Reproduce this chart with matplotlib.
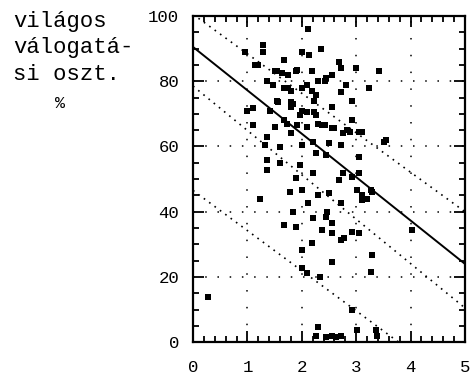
import numpy as np
import matplotlib.pyplot as plt
from matplotlib.ticker import MultipleLocator

# scatter points (x, y)
pts_x = [2.11, 0.95, 1.28, 1.28, 2.0, 2.14, 2.36, 1.68, 1.14, 2.69, 3.0, 3.42, 1.54, 1.9, 2.18,
         2.56, 2.73, 1.36, 1.74, 2.09, 2.45, 2.73, 3.24, 2.27, 2.82, 1.1, 1.56, 1.83, 1.41, 2.09,
         2.55, 2.93, 2.27, 1.96, 1.1, 1.5, 1.72, 2.09, 2.38, 2.56, 2.84, 3.06, 1.36, 1.81, 2.75,
         3.55, 1.32, 1.59, 2.01, 2.2, 2.5, 2.73, 2.27, 2.45, 3.06, 1.36, 1.59, 1.96, 2.2, 2.75,
         2.69, 3.06, 1.36, 1.9,
         1.19, 1.5, 1.63, 1.74, 1.92, 1.47, 1.68, 1.81, 2.01, 2.18, 2.29, 2.42, 1.54, 1.81, 2.23,
         0.99, 1.81, 2.0, 2.23, 1.68, 1.92, 2.29, 2.42,
         2.6, 2.88, 3.11, 2.93, 3.52, 2.93, 3.28, 3.2, 3.11, 2.45, 2.78,
         1.23, 1.78, 2.01, 2.29, 2.5, 2.73, 2.11, 3.11, 3.3, 3.02, 1.83, 2.2, 2.47, 2.56, 1.68,
         1.9, 2.38, 2.56, 2.73, 2.93, 3.06, 2.18, 2.01, 3.3, 2.56, 2.01, 2.09, 2.33, 3.28, 2.93,
         2.29, 2.27, 2.56, 2.73, 3.39, 4.03, 0.27, 2.45, 2.62, 3.37, 3.02]
pts_y = [96, 89, 89, 91, 89, 88, 90, 86.5, 85, 86, 84, 83, 83, 83, 83,
         82, 84, 80, 78, 78.8, 81, 76.7, 78, 75.8, 78.8, 71.8, 73.6, 73, 71, 70.5,
         72, 74, 69.6, 69.6, 66.6, 66, 67, 66, 66.6, 65.6, 65, 64.4, 62.9, 64, 64,
         62, 60.4, 59.8, 60.4, 61.3, 61, 60.4, 58, 57.4, 56.7, 55.8, 54.9, 54.3, 51.8, 51.8,
         49.7, 51.8, 52.8, 50.3,
         85, 83, 82.5, 82, 83.4, 78.8, 78, 77, 78, 77, 80, 80, 74, 73.6, 74,
         71, 72, 71, 70.5, 68, 66.6, 67, 66.6,
         65.6, 64.4, 64.4, 68, 61.3, 50.6, 46.6, 44, 43.5, 38.3, 32,
         44, 46, 46.6, 45, 45.7, 42.6, 42.6, 45, 46, 46.6, 40, 38, 40, 36.5, 35.9,
         35.3, 34.4, 33.4, 31.3, 33.7, 33.4, 30.4, 28.2, 26.7, 24.5, 22.7, 21.2, 20, 21.5, 9.8,
         4.6, 2, 2, 2, 2, 34.4, 13.8, 1.5, 1.5, 3.7, 3.7]

# regression line and dotted bands (values at x = 0 and x = 5)
line_x = [0, 5]
fit_y = [90.5, 24]
upper_y = [100.5, 40]
lower_y = [78.5, 10.5]
lower2_y = [46.5, -15]

plt.rcParams['font.family'] = ['Liberation Mono', 'DejaVu Sans Mono']

fig = plt.figure(figsize=(4.72, 3.81), dpi=100)
ax = fig.add_axes([0.409, 0.102, 0.576, 0.856])

# grid
for g in [20, 40, 60, 80]:
    ax.plot([0, 5], [g, g], color='black', lw=1.1, ls=(0, (1, 7)))
for g in [1, 2, 3, 4]:
    ax.plot([g, g], [0, 100], color='black', lw=1.1, ls=(0, (1, 10)))

ax.plot(pts_x, pts_y, 's', color='black', markersize=3.7, markeredgewidth=0)
ax.plot(line_x, fit_y, color='black', lw=1.4)
for band in [upper_y, lower_y, lower2_y]:
    ax.plot(line_x, band, color='black', lw=1.2, ls=(0, (1, 3)))

ax.set_xlim(0, 5)
ax.set_ylim(0, 100)
ax.xaxis.set_major_locator(MultipleLocator(1))
ax.xaxis.set_minor_locator(MultipleLocator(0.2))
ax.yaxis.set_major_locator(MultipleLocator(20))
ax.yaxis.set_minor_locator(MultipleLocator(5))
ax.tick_params(which='both', direction='in', top=True, right=True, labelsize=12.5, width=1.3)
ax.tick_params(which='major', length=8)
ax.tick_params(axis='x', which='major', pad=13)
ax.tick_params(axis='y', which='major', pad=10)
ax.tick_params(which='minor', length=4)
for s in ax.spines.values():
    s.set_linewidth(1.6)

fig.text(13 / 472, 1 - 11 / 381, 'világos\nválogatá-\nsi oszt.', ha='left', va='top',
         fontsize=16, linespacing=1.33)
fig.text(60 / 472, 1 - 104 / 381, '%', ha='center', va='center', fontsize=12)

fig.savefig('out.png', dpi=100)
